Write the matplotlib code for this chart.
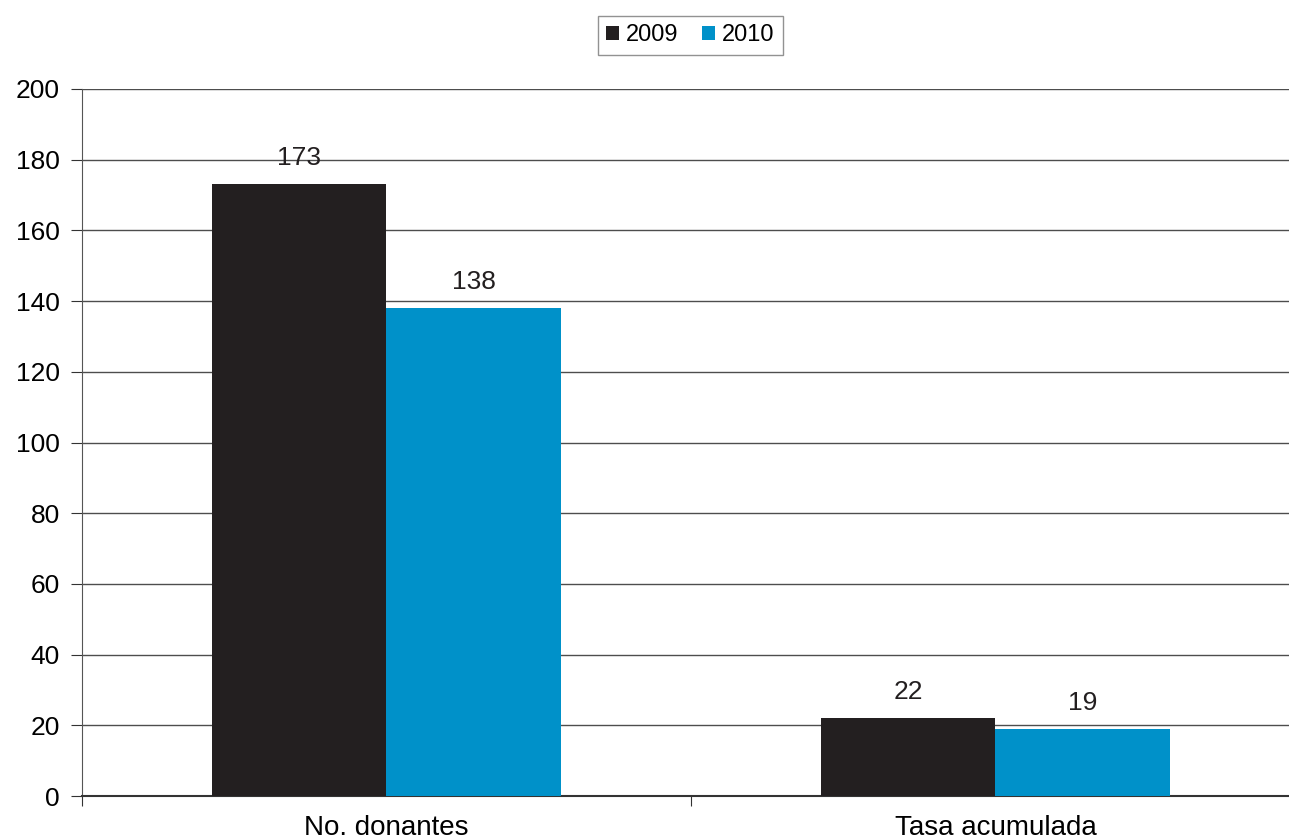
import matplotlib
matplotlib.use('Agg')
import matplotlib.pyplot as plt
import numpy as np

plt.rcParams['font.family'] = ['Liberation Sans', 'DejaVu Sans']

categories = ['No. donantes', 'Tasa acumulada']
years = ['2009', '2010']
values_2009 = [173, 22]
values_2010 = [138, 19]
colors = ['#231f20', '#0091c9']

fig = plt.figure(figsize=(12.89, 8.4), dpi=100)
ax = fig.add_axes([82 / 1289, 44 / 840, (1289 - 82) / 1289, (796 - 89) / 840])

x = np.arange(len(categories))
w = 0.286
b1 = ax.bar(x - w / 2, values_2009, w, color=colors[0], label=years[0], zorder=3)
b2 = ax.bar(x + w / 2, values_2010, w, color=colors[1], label=years[1], zorder=3)

for bars in (b1, b2):
    for rect in bars:
        h = rect.get_height()
        ax.text(rect.get_x() + rect.get_width() / 2, h + 4, f'{h:.0f}',
                ha='center', va='bottom', fontsize=19, color='#231f20')

ax.set_ylim(0, 200)
ax.set_yticks(range(0, 201, 20))
ax.yaxis.grid(True, color='#4d4d4d', linewidth=1.0, zorder=0)
ax.set_axisbelow(True)

# category separators as x ticks
ax.set_xticks([-0.5, 0.5, 1.5], minor=False)
ax.set_xticklabels([])
ax.tick_params(axis='x', which='major', direction='out', length=7, color='#333333')
ax.set_xticks(x, minor=True)
ax.set_xticklabels(categories, minor=True, fontsize=20)
ax.tick_params(axis='x', which='minor', length=0, pad=14)
ax.tick_params(axis='y', direction='out', length=8, labelsize=19, color='#333333', pad=8)
ax.set_xlim(-0.5, 1.482)

for s in ['top', 'right']:
    ax.spines[s].set_visible(False)
ax.spines['left'].set_color('#555555')
ax.spines['bottom'].set_color('#333333')
ax.spines['bottom'].set_linewidth(1.5)

leg = fig.legend(handles=[b1, b2], loc='upper center', bbox_to_anchor=(0.5355, 0.995),
                 ncol=2, fontsize=17, frameon=True, fancybox=False, edgecolor='#777777',
                 handlelength=0.55, handleheight=0.55, handletextpad=0.3, columnspacing=1.0,
                 borderpad=0.35)

fig.savefig('out.png', dpi=100)
